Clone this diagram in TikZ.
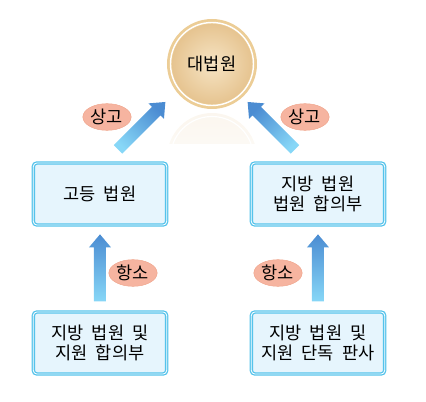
\documentclass[tikz,border=0pt]{standalone}
\usepackage{fontspec}
\newfontfamily\kr[WordSpace=2]{Noto Sans CJK KR}
\usetikzlibrary{shapes.geometric,calc}
\definecolor{boxline}{RGB}{85,195,235}
\definecolor{boxfill}{RGB}{230,245,253}
\definecolor{arrdark}{RGB}{75,140,210}
\definecolor{arrlight}{RGB}{135,215,247}
\definecolor{tagfill}{RGB}{246,180,160}
\definecolor{tagline}{RGB}{240,165,140}
\definecolor{gold}{RGB}{228,192,138}
\definecolor{goldring}{RGB}{236,205,150}
\definecolor{goldlight}{RGB}{246,228,196}
\tikzset{
  court/.style={draw=boxline,double=white,double distance=0.7pt,line width=1.1pt,
    fill=boxfill,rounded corners=3pt,minimum width=40mm,minimum height=18.6mm,
    align=center,font=\kr\fontsize{15}{17.5}\selectfont},
  tag/.style={ellipse,fill=tagfill,draw=tagline,line width=0.4pt,inner sep=0pt,
    minimum width=14.5mm,minimum height=8mm,font=\kr\fontsize{15}{17}\selectfont},
}
% tail, direction, length
\newcommand\bluearrow[3]{%
  \pgfmathsetmacro\shang{#2-90}
  \shade[top color=arrdark,bottom color=arrlight,shading angle=\shang,shift={(#1)},rotate=#2]
  (0,-6)--(#3-13,-6)--(#3-13,-11)--(#3,0)--(#3-13,11)--(#3-13,6)--(0,6)--cycle;}
\begin{document}
\begin{tikzpicture}[x=0.3mm,y=0.3mm]
\useasboundingbox(0,0)rectangle(426,402);
% reflection
\begin{scope}
\clip(160,289)rectangle(265,258);
\shade[top color=gold!14,bottom color=white](212,244)circle(45);
\draw[white,line width=1pt](212,244)circle(41.5);
\end{scope}
\node[circle,minimum size=27mm,inner sep=0pt,fill=goldring,
  path picture={\shade[inner color=goldlight,outer color=gold](path picture bounding box.center)circle(40);
  \draw[white,line width=1.2pt](path picture bounding box.center)circle(41.5);},
  font=\kr\fontsize{15}{17}\selectfont](sup)at(212,338){대법원};
\node[court](high1)at(100,208){고등 법원};
\node[court](high2)at(318,208){지방 법원\\법원 합의부};
\node[court](low1)at(100,59){지방 법원 및\\지원 합의부};
\node[court](low2)at(318,59){지방 법원 및\\지원 단독 판사};
\coordinate(t1)at($(high1.north)+(18,13)$);
\coordinate(t2)at($(high2.north)+(-23,13)$);
\coordinate(t3)at($(low1.north)+(0,10)$);
\coordinate(t4)at($(low2.north)+(0,10)$);
\bluearrow{t1}{45}{67}
\bluearrow{t2}{135}{67}
\bluearrow{t3}{90}{67}
\bluearrow{t4}{90}{67}
\node[tag](a1)at(107,285){상고};
\node[tag](a2)at(305,285){상고};
\node[tag](b1)at(133,129){항소};
\node[tag](b2)at(278,129){항소};
\end{tikzpicture}
\end{document}
